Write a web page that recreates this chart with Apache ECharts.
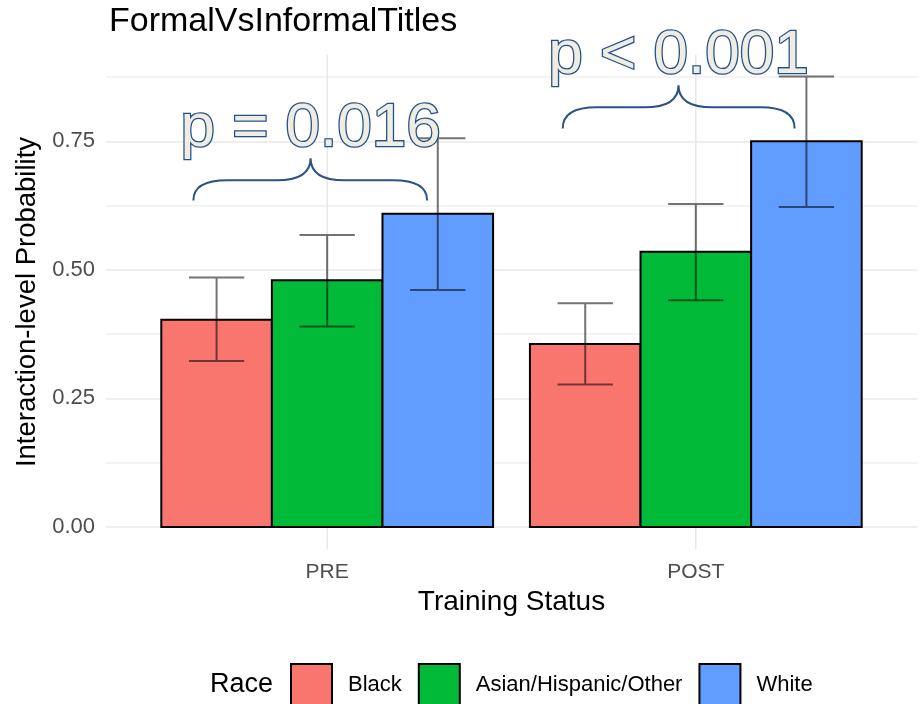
<!DOCTYPE html>
<html>
<head>
<meta charset="utf-8" />
<script src="https://cdn.jsdelivr.net/npm/echarts@6/dist/echarts.min.js"></script>
<style>
  html, body { margin: 0; padding: 0; background: #fff; }
  #chart { width: 922px; height: 704px; }
</style>
</head>
<body>
<div id="chart"></div>
<script>
// data
const categories = ["PRE", "POST"];
const races = ["Black", "Asian/Hispanic/Other", "White"];
const raceColors = ["#F8766D", "#00BA38", "#619CFF"];

// probability per race, one value per training status (PRE, POST)
const blackProb = [0.403, 0.356];
const blackLow = [0.323, 0.277];
const blackHigh = [0.485, 0.435];

const otherProb = [0.480, 0.535];
const otherLow = [0.390, 0.441];
const otherHigh = [0.568, 0.628];

const whiteProb = [0.609, 0.750];
const whiteLow = [0.461, 0.622];
const whiteHigh = [0.756, 0.876];

const yTicks = [0, 0.25, 0.5, 0.75];
const pLabels = ["p = 0.016", "p < 0.001"];
// brace: left x, right x, peak x, end y, middle y, peak y (data units)
const braces = [
  [0.637, 1.271, 0.955, 0.635, 0.674, 0.717],
  [1.639, 2.268, 1.953, 0.775, 0.816, 0.859],
];

const font = "Liberation Sans, Arial, sans-serif";
const dodge = 0.3; // width of one bar in x units

const raceData = [
  [blackProb, blackLow, blackHigh],
  [otherProb, otherLow, otherHigh],
  [whiteProb, whiteLow, whiteHigh],
];

const makeSeries = (ri) => {
  const [prob, low, high] = raceData[ri];
  const color = raceColors[ri];
  return {
    name: races[ri],
    type: "custom",
    itemStyle: { color: color, borderColor: "#000", borderWidth: 2 },
    data: categories.map((c, ci) => [ci + 1 + (ri - 1) * dodge, prob[ci], low[ci], high[ci]]),
    renderItem: (params, api) => {
      const x = api.value(0);
      const v = api.value(1);
      const lo = api.coord([x, api.value(2)]);
      const hi = api.coord([x, api.value(3)]);
      const tl = api.coord([x - dodge / 2, v]);
      const br = api.coord([x + dodge / 2, 0]);
      const cap = api.size([dodge / 4, 0])[0];
      const path =
        "M" + (hi[0] - cap) + "," + hi[1] + "L" + (hi[0] + cap) + "," + hi[1] +
        "M" + hi[0] + "," + hi[1] + "L" + lo[0] + "," + lo[1] +
        "M" + (lo[0] - cap) + "," + lo[1] + "L" + (lo[0] + cap) + "," + lo[1];
      return {
        type: "group",
        children: [
          {
            type: "rect",
            shape: { x: tl[0], y: tl[1], width: br[0] - tl[0], height: br[1] - tl[1] },
            style: { fill: color, stroke: "#000", lineWidth: 2 },
          },
          {
            type: "path",
            shape: { pathData: path },
            style: { fill: null, stroke: "rgba(0,0,0,0.55)", lineWidth: 2 },
          },
        ],
      };
    },
  };
};

const chart = echarts.init(document.getElementById("chart"));
const option = {
  animation: false,
  title: {
    text: "FormalVsInformalTitles",
    left: 104,
    top: 0,
    textStyle: { fontFamily: font, fontSize: 34, fontWeight: "normal", color: "#000" },
  },
  grid: { left: 106, right: 5, top: 77, bottom: 177 },
  xAxis: {
    type: "value",
    min: 0.4,
    max: 2.6,
    interval: 0.2,
    name: "Training Status",
    nameLocation: "middle",
    nameGap: 61,
    nameTextStyle: { fontFamily: font, fontSize: 28, color: "#000" },
    axisLine: { show: false },
    axisTick: { show: false },
    splitLine: { show: false },
    axisLabel: {
      margin: 35,
      fontFamily: font,
      fontSize: 21,
      color: "#4d4d4d",
      formatter: (v) => {
        const i = Math.round(v) - 1;
        return Math.abs(v - Math.round(v)) < 1e-6 && categories[i] ? categories[i] : "";
      },
    },
  },
  yAxis: {
    type: "value",
    min: 0,
    max: 0.875,
    interval: 0.125,
    name: "Interaction-level Probability",
    nameLocation: "middle",
    nameGap: 62,
    nameTextStyle: { fontFamily: font, fontSize: 27.5, color: "#000" },
    axisLine: { show: false },
    axisTick: { show: false },
    splitLine: { lineStyle: { color: ["#e8e8e8", "#f0f0f0"], width: 1.5 } },
    axisLabel: {
      margin: 11,
      fontFamily: font,
      fontSize: 22,
      color: "#4d4d4d",
      formatter: (v) => (yTicks.some((t) => Math.abs(t - v) < 1e-9) ? v.toFixed(2) : ""),
    },
  },
  legend: {
    data: races,
    left: 285,
    top: 658,
    icon: "rect",
    itemWidth: 41,
    itemHeight: 41,
    itemGap: 16,
    itemStyle: { borderColor: "#000", borderWidth: 2 },
    textStyle: { fontFamily: font, fontSize: 22, color: "#000", padding: [0, 0, 0, 11] },
  },
  graphic: [
    {
      type: "text",
      left: 210,
      top: 671,
      style: { text: "Race", font: "27px " + font, fill: "#000" },
    },
  ],
  series: [
    {
      // vertical grid lines through the categories
      type: "custom",
      silent: true,
      clip: false,
      z: 1,
      data: categories.map((c, i) => [i + 1]),
      renderItem: (params, api) => {
        const a = api.coord([api.value(0), -0.04375]);
        const b = api.coord([api.value(0), 0.91875]);
        return {
          type: "line",
          shape: { x1: a[0], y1: a[1], x2: b[0], y2: b[1] },
          style: { stroke: "#e8e8e8", lineWidth: 1.5 },
        };
      },
    },
    makeSeries(0),
    makeSeries(1),
    makeSeries(2),
    {
      // braces and p-values
      type: "custom",
      silent: true,
      clip: false,
      z: 5,
      data: braces,
      renderItem: (params, api) => {
        const d = braces[params.dataIndex];
        const L = api.coord([d[0], d[3]]);
        const R = api.coord([d[1], d[3]]);
        const M = api.coord([d[2], d[4]]);
        const T = api.coord([d[2], d[5]]);
        const r = 34;
        const p =
          "M" + L[0] + "," + L[1] +
          "Q" + L[0] + "," + M[1] + " " + (L[0] + r) + "," + M[1] +
          "L" + (T[0] - r) + "," + M[1] +
          "Q" + T[0] + "," + M[1] + " " + T[0] + "," + T[1] +
          "Q" + T[0] + "," + M[1] + " " + (T[0] + r) + "," + M[1] +
          "L" + (R[0] - r) + "," + M[1] +
          "Q" + R[0] + "," + M[1] + " " + R[0] + "," + R[1];
        return {
          type: "group",
          children: [
            {
              type: "path",
              shape: { pathData: p },
              style: { fill: null, stroke: "#2b5283", lineWidth: 2 },
            },
            {
              type: "text",
              x: T[0],
              y: T[1] - 29,
              style: {
                text: pLabels[params.dataIndex],
                font: "62px " + font,
                fill: "#efece2",
                stroke: "#24508a",
                lineWidth: 2.6,
                align: "center",
                verticalAlign: "middle",
              },
            },
          ],
        };
      },
    },
  ],
};
option && chart.setOption(option);
</script>
</body>
</html>
